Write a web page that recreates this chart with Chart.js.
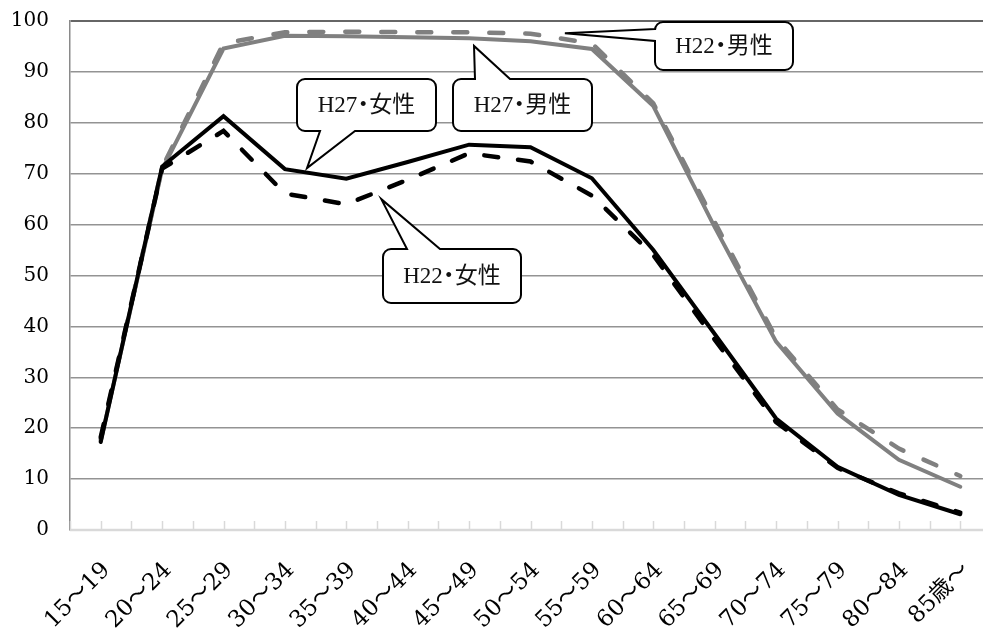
<!DOCTYPE html>
<html>
<head>
<meta charset="utf-8">
<script src="https://cdn.jsdelivr.net/npm/chart.js@4.4.1/dist/chart.umd.min.js"></script>
<style>
  html, body { margin: 0; padding: 0; background: #fff; overflow: hidden; }
  #wrap { position: absolute; left: 0; top: 0; width: 995px; height: 635px; }
</style>
</head>
<body>
<div id="wrap"><canvas id="chart"></canvas></div>
<script>
const ageLabels = ['15～19', '20～24', '25～29', '30～34', '35～39', '40～44', '45～49',
  '50～54', '55～59', '60～64', '65～69', '70～74', '75～79', '80～84', '85歳～'];

const h27Male   = [17.4, 70.8, 94.6, 97.1, 97.0, 96.8, 96.6, 96.0, 94.5, 83.3, 59.5, 37.0, 22.9, 13.8, 8.5];
const h22Male   = [17.8, 71.2, 95.6, 97.8, 97.9, 97.8, 97.8, 97.5, 95.6, 83.8, 60.5, 37.7, 23.7, 16.0, 10.6];
const h27Female = [17.3, 71.4, 81.3, 70.9, 69.0, 72.3, 75.7, 75.2, 69.1, 55.0, 38.5, 21.9, 12.4, 6.9, 3.1];
const h22Female = [18.2, 71.0, 78.4, 66.1, 64.0, 68.8, 74.0, 72.4, 65.7, 54.0, 37.4, 21.2, 12.2, 7.2, 3.4];

const yTicks = [0, 10, 20, 30, 40, 50, 60, 70, 80, 90, 100];

// callouts: box in pixels, pointer tip in data space (category index, value)
const callouts = [
  { text: 'H22・男性', box: [655, 22, 138, 48], side: 'left',   base: [29, 41],   tip: [7.56, 97.6] },
  { text: 'H27・男性', box: [453, 79, 139, 52], side: 'top',    base: [475, 510], tip: [6.08, 95.1] },
  { text: 'H27・女性', box: [297, 79, 139, 52], side: 'bottom', base: [320, 355], tip: [3.36, 71.1] },
  { text: 'H22・女性', box: [383, 249, 138, 54], side: 'top',   base: [407, 440], tip: [4.57, 65.0] },
];

const SERIF = '"DejaVu Serif", "Noto Sans CJK JP", serif';

const axisPlugin = {
  id: 'axisLine',
  beforeDatasetsDraw(chart) {
    const { ctx, chartArea, scales: { x } } = chart;
    ctx.save();
    ctx.strokeStyle = '#d9d9d9';
    ctx.lineWidth = 2.5;
    ctx.beginPath();
    ctx.moveTo(chartArea.left, chartArea.bottom);
    ctx.lineTo(chartArea.right, chartArea.bottom);
    ctx.stroke();
    ctx.lineWidth = 1.5;
    for (let i = 0; i <= ageLabels.length * 2; i++) {
      const px = Math.round(x.getPixelForValue(i / 2 - 0.5)) + 0.5;
      ctx.beginPath();
      ctx.moveTo(px, chartArea.bottom);
      ctx.lineTo(px, chartArea.bottom - 9);
      ctx.stroke();
    }
    ctx.restore();
  }
};

const calloutPlugin = {
  id: 'callouts',
  afterDatasetsDraw(chart) {
    const { ctx, scales: { x, y } } = chart;
    ctx.save();
    for (const c of callouts) {
      const [bx, by, bw, bh] = c.box;
      const r = 8;
      const tx = x.getPixelForValue(c.tip[0]);
      const ty = y.getPixelForValue(c.tip[1]);
      const [a, b] = c.base;
      ctx.beginPath();
      ctx.moveTo(bx + r, by);
      if (c.side === 'top') { ctx.lineTo(a, by); ctx.lineTo(tx, ty); ctx.lineTo(b, by); }
      ctx.lineTo(bx + bw - r, by);
      ctx.arcTo(bx + bw, by, bx + bw, by + r, r);
      ctx.lineTo(bx + bw, by + bh - r);
      ctx.arcTo(bx + bw, by + bh, bx + bw - r, by + bh, r);
      if (c.side === 'bottom') { ctx.lineTo(b, by + bh); ctx.lineTo(tx, ty); ctx.lineTo(a, by + bh); }
      ctx.lineTo(bx + r, by + bh);
      ctx.arcTo(bx, by + bh, bx, by + bh - r, r);
      if (c.side === 'left') { ctx.lineTo(bx, b); ctx.lineTo(tx, ty); ctx.lineTo(bx, a); }
      ctx.lineTo(bx, by + r);
      ctx.arcTo(bx, by, bx + r, by, r);
      ctx.closePath();
      ctx.fillStyle = '#fff';
      ctx.fill();
      ctx.lineWidth = 2;
      ctx.lineJoin = 'miter';
      ctx.strokeStyle = '#000';
      ctx.stroke();

      // text with a narrow middle dot, like the original
      ctx.fillStyle = '#111';
      ctx.font = '23px "Liberation Serif", "Noto Sans CJK JP", serif';
      ctx.textBaseline = 'middle';
      const [p1, p2] = c.text.split('・');
      const w1 = ctx.measureText(p1).width;
      const w2 = ctx.measureText(p2).width;
      const dotW = 12;
      let sx = bx + bw / 2 - (w1 + dotW + w2) / 2;
      const cy = by + bh / 2 + 1;
      ctx.textAlign = 'left';
      ctx.fillText(p1, sx, cy);
      ctx.textAlign = 'center';
      ctx.fillText('・', sx + w1 + dotW / 2, cy);
      ctx.textAlign = 'left';
      ctx.fillText(p2, sx + w1 + dotW, cy);
    }
    ctx.restore();
  }
};

const line = (label, data, color, width, dash, order) => ({
  label, data, order,
  borderColor: color,
  borderWidth: width,
  borderDash: dash,
  borderCapStyle: 'round',
  borderJoinStyle: 'miter',
  pointRadius: 0,
  tension: 0,
  fill: false,
});

new Chart(document.getElementById('chart'), {
  type: 'line',
  data: {
    labels: ageLabels,
    datasets: [
      line('H27・男性', h27Male, '#808080', 4, [], 4),
      line('H22・男性', h22Male, '#808080', 4.5, [14, 22], 3),
      line('H27・女性', h27Female, '#000', 4, [], 2),
      line('H22・女性', h22Female, '#000', 4.5, [14, 20], 1),
    ]
  },
  options: {
    animation: false,
    responsive: true,
    maintainAspectRatio: false,
    layout: { padding: { top: 21, right: 4, left: 0, bottom: 0 } },
    plugins: { legend: { display: false }, tooltip: { enabled: false } },
    scales: {
      x: {
        type: 'category',
        offset: true,
        grid: { display: false, drawTicks: false },
        border: { display: false },
        ticks: {
          autoSkip: false,
          minRotation: 45,
          maxRotation: 45,
          padding: 27,
          labelOffset: 6,
          color: '#000',
          font: { family: SERIF, size: 23 },
        },
        afterFit(scale) {
          scale.height = 105;
          scale.paddingLeft = 0;
          scale.paddingRight = 0;
        },
      },
      y: {
        min: 0,
        max: 100,
        afterBuildTicks(scale) { scale.ticks = yTicks.map(v => ({ value: v })); },
        grid: {
          drawTicks: false,
          tickLength: 0,
          lineWidth: (c) => c.tick && c.tick.value === 100 ? 2 : 1.5,
          color: (c) => {
            if (!c.tick) return '#939393';
            if (c.tick.value === 0) return 'rgba(0,0,0,0)';
            return c.tick.value === 100 ? '#666' : '#939393';
          },
        },
        border: { display: true, color: '#8a8a8a', width: 1.5 },
        ticks: {
          padding: 21,
          color: '#000',
          font: { family: SERIF, size: 20 },
        },
        afterFit(scale) {
          scale.width = 70;
          scale.paddingTop = 0;
          scale.paddingBottom = 0;
        },
      }
    }
  },
  plugins: [axisPlugin, calloutPlugin]
});
</script>
</body>
</html>
